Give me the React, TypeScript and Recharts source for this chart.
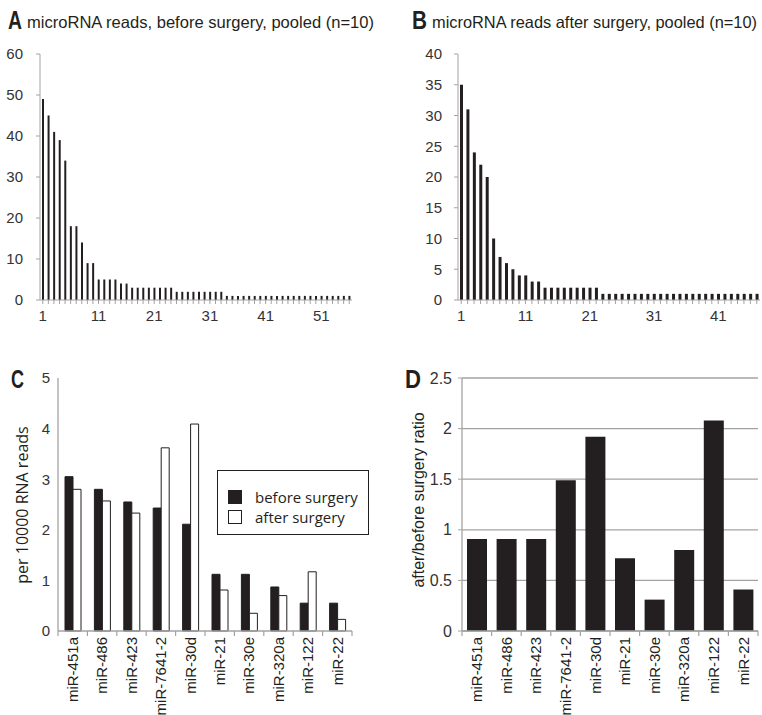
import React from "react";
import { BarChart, Bar, XAxis, YAxis, CartesianGrid, Legend } from "recharts";

const INK = "#231f20";
const AXIS = "#a3a3a3";
const SANS = "'Liberation Sans', Arial, sans-serif";
const HUMANIST = "'Open Sans', 'Noto Sans', sans-serif";

// A / B: pooled reads per microRNA, ranked from most to least abundant
const readsBefore = [
  49, 45, 41, 39, 34, 18, 18, 14, 9, 9, 5, 5, 5, 5, 4, 4, 3, 3, 3, 3, 3, 3, 3, 3,
  2, 2, 2, 2, 2, 2, 2, 2, 2,
  1, 1, 1, 1, 1, 1, 1, 1, 1, 1, 1, 1, 1, 1, 1, 1, 1, 1, 1, 1, 1, 1, 1,
];
const readsAfter = [
  35, 31, 24, 22, 20, 10, 7, 6, 5, 4, 4, 3, 3,
  2, 2, 2, 2, 2, 2, 2, 2, 2,
  1, 1, 1, 1, 1, 1, 1, 1, 1, 1, 1, 1, 1, 1, 1, 1, 1, 1, 1, 1, 1, 1, 1, 1, 1,
];
const ticksA = [0, 10, 20, 30, 40, 50, 60];
const ticksB = [0, 5, 10, 15, 20, 25, 30, 35, 40];

// C / D: selected microRNAs
const mirnas = ["miR-451a", "miR-486", "miR-423", "miR-7641-2", "miR-30d", "miR-21", "miR-30e", "miR-320a", "miR-122", "miR-22"];
const perTenThousandBefore = [3.05, 2.8, 2.55, 2.43, 2.11, 1.12, 1.12, 0.87, 0.55, 0.55];
const perTenThousandAfter = [2.8, 2.57, 2.33, 3.62, 4.09, 0.81, 0.35, 0.7, 1.17, 0.23];
const afterBeforeRatio = [0.91, 0.91, 0.91, 1.49, 1.92, 0.72, 0.31, 0.8, 2.08, 0.41];
const seriesNames = ["before surgery", "after surgery"];
const ticksC = [0, 1, 2, 3, 4, 5];
const ticksD = [0, 0.5, 1, 1.5, 2, 2.5];

const rowsA = readsBefore.map((reads, i) => ({ rank: i + 1, reads }));
const rowsB = readsAfter.map((reads, i) => ({ rank: i + 1, reads }));
const rowsC = mirnas.map((name, i) => ({ name, before: perTenThousandBefore[i], after: perTenThousandAfter[i] }));
const rowsD = mirnas.map((name, i) => ({ name, ratio: afterBeforeRatio[i] }));

const RankTick = (props: any) => {
  const { x, y, payload } = props;
  if ((payload.value - 1) % 10 !== 0) return <g />;
  return (
    <text x={x} y={y} dy="0.71em" textAnchor="middle" fontSize={15} fontFamily={SANS} fill="#333">
      {payload.value}
    </text>
  );
};

// rotated name, plus the small tick marks that sit between categories
const NameTick = (props: any) => {
  const { x, y, payload, index } = props;
  const half = payload.offset || 0;
  const axisY = y - 5;
  return (
    <g>
      <line x1={x - half} x2={x - half} y1={axisY} y2={axisY + 5} stroke={AXIS} strokeWidth={1.2} />
      {index === mirnas.length - 1 && (
        <line x1={x + half} x2={x + half} y1={axisY} y2={axisY + 5} stroke={AXIS} strokeWidth={1.2} />
      )}
      <text x={x} y={y + 1} transform={`rotate(-90 ${x} ${y + 1})`} textAnchor="end" dy="0.36em" fontSize={15} fontFamily={SANS} fill={INK}>
        {payload.value}
      </text>
    </g>
  );
};

const LegendBox = (props: any) => {
  const items = [...(props.payload || [])].sort(
    (a: any, b: any) => seriesNames.indexOf(a.value) - seriesNames.indexOf(b.value)
  );
  return (
    <div style={{ border: `1px solid ${INK}`, padding: "16px 0 6px 10px", width: 140, height: 41, background: "#fff" }}>
      {items.map((entry: any) => (
        <div key={entry.value} style={{ display: "flex", alignItems: "center", height: 20 }}>
          <span style={{ width: 12, height: 12, background: entry.color, border: `1px solid ${INK}`, marginRight: 13 }} />
          <span style={{ fontFamily: HUMANIST, fontSize: 15, color: INK, lineHeight: "20px" }}>{entry.value}</span>
        </div>
      ))}
    </div>
  );
};

const yTick = { fontSize: 15, fontFamily: SANS, fill: "#333" };

export default function App() {
  return (
    <div style={{ position: "absolute", left: 0, top: 0, width: 762, height: 715, background: "#fff", overflow: "hidden" }}>
      <div style={{ position: "absolute", left: 0, top: 0 }}>
        <BarChart width={380} height={330} data={rowsA} margin={{ top: 54, right: 28, bottom: 0, left: 0 }}>
          <XAxis dataKey="rank" interval={0} height={30} tickSize={4} tickMargin={6} tick={<RankTick />}
            axisLine={{ stroke: AXIS }} tickLine={{ stroke: AXIS }} />
          <YAxis type="number" domain={[0, 60]} ticks={ticksA} width={40} tickSize={4} tickMargin={13}
            axisLine={{ stroke: AXIS }} tickLine={{ stroke: AXIS }} tick={yTick} />
          <Bar dataKey="reads" fill={INK} barSize={2} isAnimationActive={false} />
        </BarChart>
      </div>

      <div style={{ position: "absolute", left: 400, top: 0 }}>
        <BarChart width={362} height={330} data={rowsB} margin={{ top: 54, right: 2, bottom: 0, left: 0 }}>
          <XAxis dataKey="rank" interval={0} height={30} tickSize={4} tickMargin={6} tick={<RankTick />}
            axisLine={{ stroke: AXIS }} tickLine={{ stroke: AXIS }} />
          <YAxis type="number" domain={[0, 40]} ticks={ticksB} width={58} tickSize={4} tickMargin={12}
            axisLine={{ stroke: AXIS }} tickLine={{ stroke: AXIS }} tick={yTick} />
          <Bar dataKey="reads" fill={INK} barSize={3} isAnimationActive={false} />
        </BarChart>
      </div>

      <div style={{ position: "absolute", left: 0, top: 360 }}>
        <BarChart width={380} height={355} data={rowsC} margin={{ top: 18, right: 28, bottom: 0, left: 0 }} barGap={0}>
          <XAxis dataKey="name" interval={0} height={84} tickSize={0} tickMargin={5} tickLine={false}
            axisLine={{ stroke: AXIS, strokeWidth: 1.3 }} tick={<NameTick />} />
          <YAxis type="number" domain={[0, 5]} ticks={ticksC} width={58} tickSize={0} tickMargin={8}
            axisLine={{ stroke: AXIS, strokeWidth: 1.3 }} tickLine={false} tick={yTick} />
          <Bar dataKey="before" name={seriesNames[0]} fill={INK} stroke={INK} barSize={8} isAnimationActive={false} />
          <Bar dataKey="after" name={seriesNames[1]} fill="#ffffff" stroke={INK} barSize={8} isAnimationActive={false} />
          <Legend layout="vertical" align="center" verticalAlign="middle" content={<LegendBox />}
            wrapperStyle={{ left: 217, top: 110, width: 151, height: 64 }} />
        </BarChart>
      </div>

      <div style={{ position: "absolute", left: 380, top: 360 }}>
        <BarChart width={382} height={355} data={rowsD} margin={{ top: 18, right: 4, bottom: 0, left: 0 }}>
          <CartesianGrid vertical={false} stroke={AXIS} strokeWidth={1.3} />
          <XAxis dataKey="name" interval={0} height={84} tickSize={0} tickMargin={5} tickLine={false}
            axisLine={{ stroke: AXIS, strokeWidth: 1.3 }} tick={<NameTick />} />
          <YAxis type="number" domain={[0, 2.5]} ticks={ticksD} width={82} tickSize={4} tickMargin={6}
            axisLine={{ stroke: AXIS, strokeWidth: 1.3 }} tickLine={{ stroke: AXIS }} tick={{ ...yTick, fontSize: 16 }} />
          <Bar dataKey="ratio" fill={INK} barSize={20} isAnimationActive={false} />
        </BarChart>
      </div>

      <svg width={762} height={715} style={{ position: "absolute", left: 0, top: 0, pointerEvents: "none" }}>
        <text x={8} y={29} fontFamily={SANS} fontWeight="bold" fontSize={26} fill={INK} textLength={14} lengthAdjust="spacingAndGlyphs">A</text>
        <text x={27} y={28} fontFamily={SANS} fontSize={16.5} fill={INK} textLength={347} lengthAdjust="spacingAndGlyphs">
          microRNA reads, before surgery, pooled (n=10)
        </text>
        <text x={412} y={29} fontFamily={SANS} fontWeight="bold" fontSize={26} fill={INK} textLength={15} lengthAdjust="spacingAndGlyphs">B</text>
        <text x={432} y={28} fontFamily={SANS} fontSize={16.5} fill={INK} textLength={325} lengthAdjust="spacingAndGlyphs">
          microRNA reads after surgery, pooled (n=10)
        </text>
        <text x={11} y={388} fontFamily={SANS} fontWeight="bold" fontSize={25} fill={INK} textLength={13} lengthAdjust="spacingAndGlyphs">C</text>
        <text x={405} y={388} fontFamily={SANS} fontWeight="bold" fontSize={25} fill={INK} textLength={16} lengthAdjust="spacingAndGlyphs">D</text>
        <text x={22} y={505} transform="rotate(-90 22 505)" textAnchor="middle" dy="0.36em" fontFamily={HUMANIST} fontSize={16} fill={INK}>
          per 10000 RNA reads
        </text>
        <text x={418} y={500} transform="rotate(-90 418 500)" textAnchor="middle" dy="0.36em" fontFamily={SANS} fontSize={16} fill={INK}>
          after/before surgery ratio
        </text>
      </svg>
    </div>
  );
}
